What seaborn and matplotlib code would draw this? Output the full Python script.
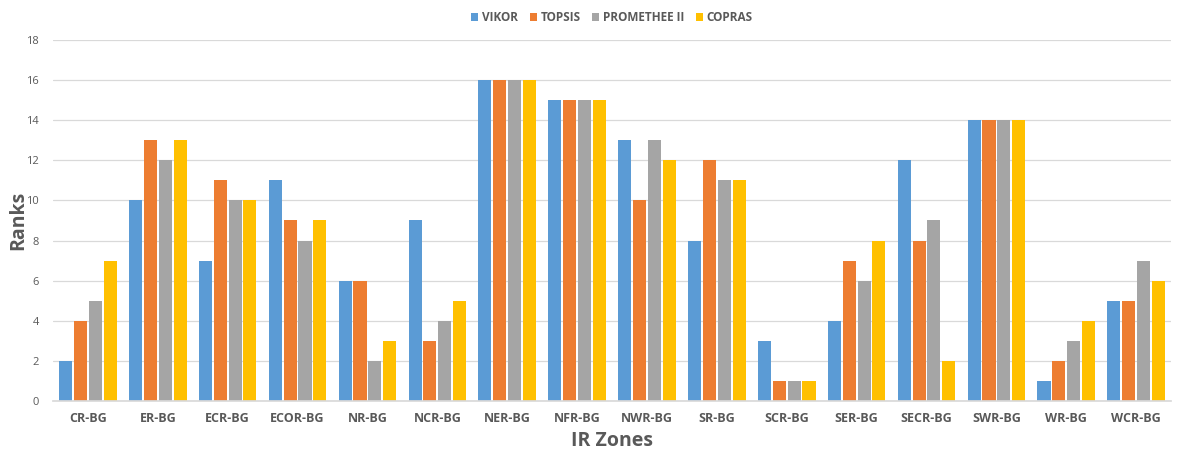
import matplotlib
matplotlib.use("Agg")
import matplotlib.pyplot as plt
import seaborn as sns
import pandas as pd

zones = ["CR-BG", "ER-BG", "ECR-BG", "ECOR-BG", "NR-BG", "NCR-BG", "NER-BG", "NFR-BG",
         "NWR-BG", "SR-BG", "SCR-BG", "SER-BG", "SECR-BG", "SWR-BG", "WR-BG", "WCR-BG"]
vikor = [2, 10, 7, 11, 6, 9, 16, 15, 13, 8, 3, 4, 12, 14, 1, 5]
topsis = [4, 13, 11, 9, 6, 3, 16, 15, 10, 12, 1, 7, 8, 14, 2, 5]
promethee = [5, 12, 10, 8, 2, 4, 16, 15, 13, 11, 1, 6, 9, 14, 3, 7]
copras = [7, 13, 10, 9, 3, 5, 16, 15, 12, 11, 1, 8, 2, 14, 4, 6]
methods = ["VIKOR", "TOPSIS", "PROMETHEE II", "COPRAS"]
colors = ["#5B9BD5", "#ED7D31", "#A5A5A5", "#FFC000"]

rows = []
for m, vals in zip(methods, [vikor, topsis, promethee, copras]):
    for z, v in zip(zones, vals):
        rows.append({"Zone": z, "Method": m, "Rank": v})
df = pd.DataFrame(rows)

sns.set_theme(style="white")
plt.rcParams["font.family"] = ["Open Sans", "DejaVu Sans"]

fig = plt.figure(figsize=(11.77, 4.55), dpi=100)
ax = fig.add_axes([0.045, 0.118, 0.95, 0.795])

sns.barplot(data=df, x="Zone", y="Rank", hue="Method", palette=colors,
            width=0.85, gap=0.12, ax=ax, legend=True, edgecolor="none", saturation=1)

ax.set_ylim(0, 18)
ax.set_yticks(range(0, 19, 2))
ax.set_xlim(-0.5, len(zones) - 0.5)
ax.yaxis.grid(True, color="#D9D9D9", linewidth=0.9)
ax.set_axisbelow(True)
for s in ["top", "right", "left"]:
    ax.spines[s].set_visible(False)
ax.spines["bottom"].set_color("#D9D9D9")
ax.tick_params(axis="y", length=0, labelsize=8, labelcolor="#595959", pad=10)
ax.tick_params(axis="x", length=0, labelsize=9, labelcolor="#595959", pad=8)
for lbl in ax.get_xticklabels():
    lbl.set_fontweight("bold")

ax.set_xlabel("IR Zones", fontsize=14, fontweight="bold", color="#595959", labelpad=4)
ax.set_ylabel("Ranks", fontsize=14, fontweight="bold", color="#595959")
ax.yaxis.set_label_coords(-0.022, 0.5)

handles, labels = ax.get_legend_handles_labels()
ax.legend(handles, labels, loc="center", bbox_to_anchor=(0.5, 1.06), ncol=4,
          frameon=False, prop={"weight": "bold", "size": 8.5},
          handlelength=0.6, handleheight=0.6, handletextpad=0.3, columnspacing=1.0,
          labelcolor="#595959")

fig.savefig("out.png", dpi=100)
